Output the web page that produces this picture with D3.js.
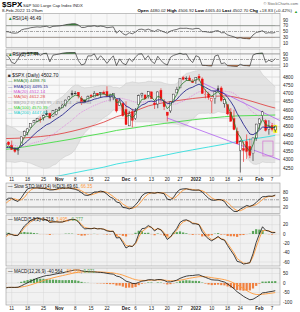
<!DOCTYPE html>
<html><head><meta charset="utf-8">
<script src="https://cdn.jsdelivr.net/npm/d3@7"></script>
<style>
body{margin:0;background:#fff;}
svg{display:block;font-family:"Liberation Sans",Arial,sans-serif;}
</style></head><body>
<svg id="c" width="300" height="312"></svg>
<script>
// ---------------- DATA ----------------
const dates = [
"2021-09-13","2021-09-14","2021-09-15","2021-09-16","2021-09-17","2021-09-20","2021-09-21","2021-09-22","2021-09-23","2021-09-24","2021-09-27","2021-09-28","2021-09-29","2021-09-30",
"2021-10-01","2021-10-04","2021-10-05","2021-10-06","2021-10-07","2021-10-08","2021-10-11","2021-10-12","2021-10-13","2021-10-14","2021-10-15","2021-10-18","2021-10-19","2021-10-20","2021-10-21","2021-10-22","2021-10-25","2021-10-26","2021-10-27","2021-10-28","2021-10-29",
"2021-11-01","2021-11-02","2021-11-03","2021-11-04","2021-11-05","2021-11-08","2021-11-09","2021-11-10","2021-11-11","2021-11-12","2021-11-15","2021-11-16","2021-11-17","2021-11-18","2021-11-19","2021-11-22","2021-11-23","2021-11-24","2021-11-26","2021-11-29","2021-11-30",
"2021-12-01","2021-12-02","2021-12-03","2021-12-06","2021-12-07","2021-12-08","2021-12-09","2021-12-10","2021-12-13","2021-12-14","2021-12-15","2021-12-16","2021-12-17","2021-12-20","2021-12-21","2021-12-22","2021-12-23","2021-12-27","2021-12-28","2021-12-29","2021-12-30","2021-12-31",
"2022-01-03","2022-01-04","2022-01-05","2022-01-06","2022-01-07","2022-01-10","2022-01-11","2022-01-12","2022-01-13","2022-01-14","2022-01-18","2022-01-19","2022-01-20","2022-01-21","2022-01-24","2022-01-25","2022-01-26","2022-01-27","2022-01-28","2022-01-31",
"2022-02-01","2022-02-02","2022-02-03","2022-02-04","2022-02-07","2022-02-08"];

const open = [
4474.8,4479.3,4447.5,4477.1,4469.7,4402.9,4374.5,4367.4,4406.8,4438.0,4442.1,4419.5,4362.4,4370.7,
4317.2,4348.8,4309.9,4319.6,4383.7,4406.5,4385.4,4368.3,4358.0,4386.7,4447.7,4463.7,4497.3,4524.4,4532.2,4546.1,4553.7,4578.7,4580.2,4562.8,4572.9,
4610.6,4613.3,4630.7,4662.9,4699.3,4701.5,4707.3,4670.3,4659.4,4655.2,4689.3,4679.4,4701.5,4700.7,4708.4,4712.0,4678.5,4675.8,4664.6,4628.8,4640.2,
4602.8,4504.7,4589.5,4548.4,4632.0,4690.9,4691.0,4687.6,4710.3,4642.0,4636.5,4719.1,4652.5,4587.9,4595.0,4650.4,4704.0,4734.0,4795.5,4788.6,4794.2,4775.2,
4778.1,4804.5,4788.0,4693.4,4697.7,4655.3,4669.1,4728.6,4733.6,4638.0,4632.2,4588.0,4547.4,4471.4,4356.3,4366.6,4408.4,4380.6,4336.2,4431.8,
4519.6,4566.4,4535.4,4482.8,4505.8,4480.02];
const high = [
4492.0,4485.7,4486.9,4485.9,4471.5,4402.9,4394.9,4416.8,4465.4,4463.1,4457.3,4419.5,4385.6,4382.6,
4375.2,4355.5,4369.2,4365.6,4430.0,4412.0,4415.9,4374.9,4372.9,4439.7,4475.8,4488.8,4520.4,4540.9,4551.4,4559.7,4572.6,4598.5,4584.6,4597.6,4608.1,
4620.3,4635.2,4663.5,4683.0,4718.5,4714.9,4708.5,4684.9,4664.6,4688.5,4697.4,4714.9,4701.5,4708.8,4717.8,4743.8,4699.4,4702.9,4664.6,4672.9,4646.0,
4652.9,4595.5,4608.0,4612.6,4694.0,4705.1,4695.3,4713.6,4710.3,4660.5,4712.6,4732.0,4666.7,4587.9,4651.1,4697.7,4740.7,4791.5,4807.0,4804.1,4808.9,4786.8,
4796.6,4818.6,4797.7,4725.0,4708.0,4673.0,4714.1,4748.8,4744.1,4665.1,4632.2,4611.6,4602.1,4494.5,4417.4,4411.0,4453.2,4428.7,4432.7,4516.9,
4550.5,4595.3,4542.9,4539.7,4521.9,4506.9];
const low = [
4445.7,4435.5,4438.4,4443.8,4427.8,4305.9,4348.0,4359.6,4406.8,4430.3,4436.2,4346.3,4355.1,4306.2,
4288.5,4278.9,4309.9,4290.5,4383.7,4386.2,4360.6,4342.1,4329.9,4386.7,4447.7,4447.5,4496.4,4524.4,4526.9,4524.0,4537.4,4569.2,4551.7,4562.8,4567.6,
4595.1,4613.3,4621.2,4662.6,4681.3,4694.4,4670.9,4630.9,4648.3,4650.4,4672.9,4679.4,4684.4,4672.8,4694.2,4682.2,4652.7,4659.9,4585.4,4625.3,4560.0,
4510.3,4504.7,4495.1,4540.5,4632.0,4674.5,4666.0,4670.2,4667.6,4606.5,4611.2,4651.9,4600.2,4531.1,4583.2,4645.5,4704.0,4734.0,4780.0,4778.1,4775.3,4765.7,
4758.2,4774.3,4699.4,4671.3,4662.7,4582.2,4638.3,4706.7,4650.3,4614.8,4568.7,4530.2,4478.0,4395.3,4222.6,4287.1,4304.8,4309.5,4292.5,4414.0,
4484.0,4544.3,4470.4,4451.5,4471.5,4465.4];
const close = [
4468.73,4443.05,4480.70,4473.75,4432.99,4357.73,4354.19,4395.64,4448.98,4455.48,4443.11,4352.63,4359.46,4307.54,
4357.04,4300.46,4345.72,4363.55,4399.76,4391.34,4361.19,4350.65,4363.80,4438.26,4471.37,4486.46,4519.63,4536.19,4549.78,4544.90,4566.48,4574.79,4551.68,4596.42,4605.38,
4613.67,4630.65,4660.57,4680.06,4697.53,4701.70,4685.25,4646.71,4649.27,4682.85,4682.80,4700.90,4688.67,4704.54,4697.96,4682.94,4690.70,4701.46,4594.62,4655.27,4567.00,
4513.04,4577.10,4538.43,4591.67,4686.75,4701.21,4667.45,4712.02,4668.97,4634.09,4709.85,4668.67,4620.64,4568.02,4649.23,4696.56,4725.79,4791.19,4786.35,4793.06,4778.73,4766.18,
4796.56,4793.54,4700.58,4696.05,4677.03,4670.29,4713.07,4726.35,4659.03,4662.85,4577.11,4532.76,4482.73,4397.94,4410.13,4356.45,4349.93,4326.51,4431.85,4515.55,
4546.54,4589.38,4477.44,4500.53,4483.87,4502.70];
// closes Aug 2 - Sep 10 2021 (history before the first bar)
const closesBefore = [4387.16,4423.15,4402.66,4429.10,4436.52,4432.35,4436.75,4447.70,4460.83,4468.00,4479.71,4448.08,4400.27,4405.80,4441.67,4479.53,4486.23,4496.19,4470.00,4509.37,4528.79,4522.68,4524.09,4536.95,4535.43,4520.03,4514.07,4493.28,4458.58];

// long moving averages (weekly readings)
const maDates = ["2021-10-07","2021-10-15","2021-10-22","2021-10-29","2021-11-05","2021-11-12","2021-11-19","2021-11-26","2021-12-03","2021-12-10","2021-12-17","2021-12-23","2021-12-31","2022-01-07","2022-01-14","2022-01-21","2022-01-28","2022-02-04","2022-02-08"];
const ma50 = [4428,4432,4440,4452,4472,4497,4527,4560,4588,4625,4645,4657,4670,4680,4686,4676,4651,4622,4612.28];
const ma100 = [4362,4378,4393,4409,4425,4444,4461,4477,4491,4506,4519,4529,4541,4551,4560,4565,4567,4569,4570.39];
const ma200 = [4150,4166,4182,4199,4218,4237,4255,4274,4291,4308,4326,4342,4360,4377,4394,4410,4426,4440,4447.82];

// drawn trend lines & annotation box: [bar offset from Oct 11, price]
const trend1 = [[59.3, 4772], [85.5, 4527]];
const trend2 = [[49, 4552], [85.5, 4292]];
const boxX = [79.1, 82.3], boxPrice = [4413, 4323];

const tickDates = ["2021-10-11","2021-10-18","2021-10-25","2021-11-01","2021-11-08","2021-11-15","2021-11-22","2021-12-01","2021-12-06","2021-12-13","2021-12-20","2021-12-27","2022-01-03","2022-01-10","2022-01-18","2022-01-24","2022-02-01","2022-02-07"];
const tickLabels = ["11","18","25","Nov","8","15","22","Dec","6","13","20","27","2022","10","18","24","Feb","7"];
const priceTicks = [4250,4300,4350,4400,4450,4500,4550,4600,4650,4700,4750,4800];
const rsi14Ticks = [90,70,50,30,10], rsi2Ticks = [90,50,10], stoTicks = [80,50,20];
const macd1Ticks = [20,0,-20,-40,-60], macd2Ticks = [50,0,-50,-100];

// ---------------- INDICATORS ----------------
const allClose = closesBefore.concat(close);
const OFF = closesBefore.length;
function ema(arr, n){
  const k = 2/(n+1), out = arr.map(()=>null);
  let start = arr.findIndex(v=>v!=null); let s=0;
  for(let i=start;i<arr.length;i++){
    const j=i-start;
    if(j<n-1){s+=arr[i];continue;}
    if(j===n-1){s+=arr[i]; out[i]=s/n;}
    else out[i]=arr[i]*k+out[i-1]*(1-k);
  }
  return out;
}
function sma(arr,n){return arr.map((v,i)=>{ if(i<n-1) return null; let s=0; for(let j=i-n+1;j<=i;j++){ if(arr[j]==null) return null; s+=arr[j];} return s/n;});}
function rsi(arr,n){
  const out=arr.map(()=>null); let ag=0, al=0;
  for(let i=1;i<arr.length;i++){
    const ch=arr[i]-arr[i-1], g=Math.max(ch,0), l=Math.max(-ch,0);
    if(i<=n){ag+=g;al+=l; if(i===n){ag/=n;al/=n; out[i]=100-100/(1+ag/al);} }
    else {ag=(ag*(n-1)+g)/n; al=(al*(n-1)+l)/n; out[i]=al===0?100:100-100/(1+ag/al);}
  }
  return out;
}
const sliceMain = a => a.slice(OFF);
const ema3 = sliceMain(ema(allClose,3)), ema10 = sliceMain(ema(allClose,10));
const ma20full = sma(allClose,20);
const ma20 = sliceMain(ma20full);
const bbU = [], bbL = [];
for(let i=0;i<close.length;i++){
  const e=OFF+i, m=ma20full[e]; let s=0;
  for(let j=e-19;j<=e;j++) s+=(allClose[j]-m)**2;
  const sd=Math.sqrt(s/20); bbU.push(m+2*sd); bbL.push(m-2*sd);
}
const rsi14 = sliceMain(rsi(allClose,14)), rsi2 = sliceMain(rsi(allClose,2));
const fastK = close.map((c,i)=>{ if(i<13) return null; const hh=d3.max(high.slice(i-13,i+1)), ll=d3.min(low.slice(i-13,i+1)); return (c-ll)/(hh-ll)*100;});
const slowK = sma(fastK,3), slowD = sma(slowK,3);
const e5=ema(allClose,5), e9=ema(allClose,9);
const m1full = allClose.map((v,i)=>e9[i]==null?null:e5[i]-e9[i]);
const s1full = ema(m1full,2);
const macd1 = sliceMain(m1full), sig1 = sliceMain(s1full);
const e12=ema(allClose,12), e26=ema(allClose,26);
const m2full = allClose.map((v,i)=>e26[i]==null?null:e12[i]-e26[i]);
const s2full = ema(m2full,9);
const macd2 = sliceMain(m2full), sig2 = sliceMain(s2full);

// ---------------- LAYOUT ----------------
const svg = d3.select("#c");
const X0=6, X1=280;
const xs = d3.scaleLinear().domain([-1.8,84.5]).range([X0,X1]);
const BASE = dates.indexOf("2021-10-11");
const xi = i => xs(i-BASE);
const xd = d => xi(dates.indexOf(d));
const FIRST = BASE-2;
const idx = d3.range(FIRST, close.length);

const panels = {
  rsi14:{top:13.5,bot:47.5,y:d3.scaleLinear().domain([0,100]).range([46,17]),ticks:rsi14Ticks,bg:"#f7f7f7"},
  rsi2:{top:49,bot:68,y:d3.scaleLinear().domain([0,100]).range([66.5,52.5]),ticks:rsi2Ticks,bg:"#f7f7f7"},
  price:{top:69.5,bot:176,y:d3.scaleLinear().domain([4250,4800]).range([168,77]),ticks:priceTicks,bg:"#f8f8f8"},
  sto:{top:183,bot:213.5,y:d3.scaleLinear().domain([0,100]).range([211.8,187.7]),ticks:stoTicks,bg:"#f1f1f1"},
  m1:{top:215,bot:266,y:d3.scaleLinear().domain([-60,0]).range([262,234]),ticks:macd1Ticks,bg:"#f1f1f1"},
  m2:{top:268,bot:305,y:d3.scaleLinear().domain([-100,0]).range([302,283]),ticks:macd2Ticks,bg:"#f1f1f1"}
};
const defs = svg.append("defs");
const G = {};
Object.entries(panels).forEach(([k,p])=>{
  defs.append("clipPath").attr("id","cl-"+k).append("rect").attr("x",X0).attr("y",p.top).attr("width",X1-X0).attr("height",p.bot-p.top);
  svg.append("rect").attr("x",X0).attr("y",p.top).attr("width",X1-X0).attr("height",p.bot-p.top).attr("fill",p.bg);
  G[k] = svg.append("g").attr("clip-path",`url(#cl-${k})`);
  // vertical grid
  G[k].selectAll(null).data(tickDates).join("line").attr("x1",d=>xd(d)).attr("x2",d=>xd(d)).attr("y1",p.top).attr("y2",p.bot).attr("stroke","#d6d6d6").attr("stroke-width",0.5);
  // right axis labels
  svg.append("g").selectAll(null).data(p.ticks).join("text").attr("x",X1+3).attr("y",d=>p.y(d)+1.6).attr("font-size",4.6).attr("fill","#222").text(d=>d);
});
// price horizontal grid
G.price.selectAll(null).data(priceTicks).join("line").attr("x1",X0).attr("x2",X1).attr("y1",d=>panels.price.y(d)).attr("y2",d=>panels.price.y(d)).attr("stroke","#dadada").attr("stroke-width",0.5);
G.m1.selectAll(null).data(macd1Ticks).join("line").attr("x1",X0).attr("x2",X1).attr("y1",d=>panels.m1.y(d)).attr("y2",d=>panels.m1.y(d)).attr("stroke","#d6d6d6").attr("stroke-width",0.5);
G.m2.selectAll(null).data(macd2Ticks).join("line").attr("x1",X0).attr("x2",X1).attr("y1",d=>panels.m2.y(d)).attr("y2",d=>panels.m2.y(d)).attr("stroke","#d6d6d6").attr("stroke-width",0.5);

function lineOf(vals, y){ return d3.line().defined(i=>vals[i]!=null).x(i=>xi(i)).y(i=>y(vals[i]))(idx); }

// ---------------- RSI-type panels ----------------
function oscPanel(key, vals, hiLvl, loLvl, midLvl){
  const p=panels[key], g=G[key], y=p.y;
  const cid="cl-"+key;
  defs.append("clipPath").attr("id",cid+"-hi").append("rect").attr("x",X0).attr("y",p.top).attr("width",X1-X0).attr("height",y(hiLvl)-p.top);
  defs.append("clipPath").attr("id",cid+"-lo").append("rect").attr("x",X0).attr("y",y(loLvl)).attr("width",X1-X0).attr("height",p.bot-y(loLvl));
  const ar = base => d3.area().defined(i=>vals[i]!=null).x(i=>xi(i)).y0(y(base)).y1(i=>y(vals[i]))(idx);
  g.append("path").attr("d",ar(hiLvl)).attr("fill","#3f8f3f").attr("clip-path",`url(#${cid}-hi)`);
  g.append("path").attr("d",ar(loLvl)).attr("fill","#e0702a").attr("clip-path",`url(#${cid}-lo)`);
  [hiLvl,loLvl].forEach(l=>g.append("line").attr("x1",X0).attr("x2",X1).attr("y1",y(l)).attr("y2",y(l)).attr("stroke","#777").attr("stroke-width",0.7));
  if(midLvl!=null) g.append("line").attr("x1",X0).attr("x2",X1).attr("y1",y(midLvl)).attr("y2",y(midLvl)).attr("stroke","#555").attr("stroke-width",0.5).attr("stroke-dasharray","3,1,1,1");
  g.append("path").attr("d",lineOf(vals,y)).attr("fill","none").attr("stroke","#333").attr("stroke-width",0.7);
}
oscPanel("rsi14", rsi14, 70, 30, 50);
oscPanel("rsi2", rsi2, 90, 10, 50);

// ---------------- PRICE ----------------
const py = panels.price.y, gp = G.price;
gp.append("path").attr("d",d3.area().x(i=>xi(i)).y0(i=>py(bbL[i])).y1(i=>py(bbU[i]))(idx)).attr("fill","#e3e3e3");
gp.append("path").attr("d",lineOf(bbU,py)).attr("fill","none").attr("stroke","#c9c9c9").attr("stroke-width",0.5);
gp.append("path").attr("d",lineOf(bbL,py)).attr("fill","none").attr("stroke","#c9c9c9").attr("stroke-width",0.5);
gp.selectAll(null).data(priceTicks).join("line").attr("x1",X0).attr("x2",X1).attr("y1",d=>py(d)).attr("y2",d=>py(d)).attr("stroke","#d2d2d2").attr("stroke-width",0.4);
const maLine = vals => d3.line().curve(d3.curveMonotoneX).x((v,k)=>xd(maDates[k])).y(v=>py(v))(vals);
gp.append("path").attr("d",maLine(ma200)).attr("fill","none").attr("stroke","#33dede").attr("stroke-width",0.9);
gp.append("path").attr("d",maLine(ma100)).attr("fill","none").attr("stroke","#44dd44").attr("stroke-width",0.9);
gp.append("path").attr("d",maLine(ma50)).attr("fill","none").attr("stroke","#e04848").attr("stroke-width",0.9);
gp.append("path").attr("d",lineOf(ma20,py)).attr("fill","none").attr("stroke","#e070e0").attr("stroke-width",0.7).attr("stroke-dasharray","1,1");
[trend1,trend2].forEach(t=>gp.append("line").attr("x1",xs(t[0][0])).attr("y1",py(t[0][1])).attr("x2",xs(t[1][0])).attr("y2",py(t[1][1])).attr("stroke","#b060f0").attr("stroke-width",0.8));
gp.append("rect").attr("x",xs(boxX[0])).attr("y",py(boxPrice[0])).attr("width",xs(boxX[1])-xs(boxX[0])).attr("height",py(boxPrice[1])-py(boxPrice[0])).attr("fill","none").attr("stroke","#d070d0").attr("stroke-width",0.7);
// last bar highlight
const L = close.length-1;
gp.append("rect").attr("x",xi(L)-2).attr("y",py(high[L])-0.6).attr("width",4).attr("height",py(low[L])-py(high[L])+1.2).attr("fill","#ffff30");
// candles
const cg = gp.append("g");
idx.forEach(i=>{
  const x=xi(i), o=open[i], c=close[i];
  const col = c>=close[i-1] ? "#111" : "#ee1111";
  cg.append("line").attr("x1",x).attr("x2",x).attr("y1",py(high[i])).attr("y2",py(low[i])).attr("stroke",col).attr("stroke-width",0.6);
  const yt=py(Math.max(o,c)), yb=py(Math.min(o,c));
  cg.append("rect").attr("x",x-1).attr("y",yt).attr("width",2).attr("height",Math.max(0.6,yb-yt))
    .attr("fill", c>o ? "#fff" : col).attr("stroke",col).attr("stroke-width",0.4);
});
gp.append("path").attr("d",lineOf(ema10,py)).attr("fill","none").attr("stroke","#2a2a90").attr("stroke-width",0.9);
gp.append("path").attr("d",lineOf(ema3,py)).attr("fill","none").attr("stroke","#2a7a2a").attr("stroke-width",0.8);

// ---------------- STO ----------------
const sy = panels.sto.y, gs = G.sto;
[80,20].forEach(l=>gs.append("line").attr("x1",X0).attr("x2",X1).attr("y1",sy(l)).attr("y2",sy(l)).attr("stroke","#777").attr("stroke-width",0.7));
gs.append("line").attr("x1",X0).attr("x2",X1).attr("y1",sy(50)).attr("y2",sy(50)).attr("stroke","#555").attr("stroke-width",0.5).attr("stroke-dasharray","3,1,1,1");
gs.append("path").attr("d",lineOf(slowD,sy)).attr("fill","none").attr("stroke","#ff9a3a").attr("stroke-width",0.9);
gs.append("path").attr("d",lineOf(slowK,sy)).attr("fill","none").attr("stroke","#111").attr("stroke-width",0.8);

// ---------------- MACDs ----------------
function macdPanel(key, m, s){
  const y=panels[key].y, g=G[key];
  g.selectAll(null).data(idx.filter(i=>m[i]!=null&&s[i]!=null)).join("rect")
    .attr("x",i=>xi(i)-1.1).attr("width",2.2)
    .attr("y",i=>Math.min(y(0),y(m[i]-s[i]))).attr("height",i=>Math.abs(y(m[i]-s[i])-y(0)))
    .attr("fill",i=>m[i]-s[i]>=0?"#5aa55a":"#f08040");
  g.append("path").attr("d",lineOf(s,y)).attr("fill","none").attr("stroke","#ff9a3a").attr("stroke-width",0.9);
  g.append("path").attr("d",lineOf(m,y)).attr("fill","none").attr("stroke","#111").attr("stroke-width",0.8);
}
macdPanel("m1", macd1, sig1);
macdPanel("m2", macd2, sig2);

// panel borders
Object.values(panels).forEach(p=>svg.append("rect").attr("x",X0).attr("y",p.top).attr("width",X1-X0).attr("height",p.bot-p.top).attr("fill","none").attr("stroke","#999").attr("stroke-width",0.6));

// ---------------- TEXT ----------------
const FS=4.6;
function txt(x,y,parts,opt={}){
  const t=svg.append("text").attr("x",x).attr("y",y).attr("font-size",opt.size||FS).attr("text-anchor",opt.anchor||"start");
  parts.forEach(p=>t.append("tspan").attr("fill",p[1]||"#111").attr("font-weight",p[2]?"bold":null).text(p[0]));
  return t;
}
txt(2,7,[["$SPX","#000",true]],{size:8});
txt(23,6.5,[["S&P 500 Large Cap Index ","#222"],["INDX","#222"]],{size:4.2});
txt(298,5,[["© StockCharts.com","#666"]],{size:4,anchor:"end"});
txt(2,12.3,[["8-Feb-2022 11:29am","#222"]],{size:4.4});
txt(292,12.3,[["Open ","#000",true],["4480.02  ","#222"],["High ","#000",true],["4506.92  ","#222"],["Low ","#000",true],["4465.40  ","#222"],["Last ","#000",true],["4502.70  ","#222"],["Chg ","#000",true],["+18.83 (+0.42%)","#222"]],{size:4.4,anchor:"end"});
txt(298,12.5,[["▲","#2a9a2a"]],{size:4,anchor:"end"});

txt(8,20,[["▲","#2a8a2a"],["RSI(14) 46.49","#111"]]);
txt(8,56,[["▲","#2a8a2a"],["RSI(2) 57.44","#111"]]);

const f2 = v=>v.toFixed(2);
const legend = [
  [["■ ","#333"],["$SPX (Daily) ","#111"],[f2(close[L]),"#111"]],
  [["— ","#2a7a2a"],["EMA(3) "+f2(ema3[L]),"#2a7a2a"]],
  [["— ","#2a2a90"],["EMA(10) "+f2(ema10[L]),"#2a2a90"]],
  [["··· ","#e070e0"],["MA(20) "+f2(ma20[L]),"#d050d0"]],
  [["— ","#e04848"],["MA(50) "+f2(ma50[ma50.length-1]),"#e04848"]],
  [["— ","#aaa"],["BB(20,2.0) "+f2(bbL[L])+" - "+f2(ma20[L])+" - "+f2(bbU[L]),"#999"]],
  [["— ","#44dd44"],["MA(100) "+f2(ma100[ma100.length-1]),"#33cc33"]],
  [["— ","#33dede"],["MA(200) "+f2(ma200[ma200.length-1]),"#22cccc"]]
];
legend.forEach((parts,k)=>txt(8,76.8+k*5.35,parts,{size:k===0?4.8:4.4}));

txt(8,188,[["— ","#111"],["Slow STO %K(14) %D(3) ","#111"],["69.61","#111"],[", ","#111"],["66.35","#ff9a3a"]]);
txt(8,221,[["— ","#111"],["MACD(5,9,2) ","#111"],["3.218","#111"],[", ","#111"],["3.495","#ff9a3a"],[", ","#111"],["-0.277","#5aa55a"]]);
txt(8,273,[["— ","#111"],["MACD(12,26,9) ","#111"],["-40.564","#111"],[", ","#111"],["-50.536","#ff9a3a"],[", ","#111"],["9.971","#5aa55a"]]);

// x-axis labels
[181.3, 310].forEach(yy=>{
  svg.append("g").selectAll(null).data(tickDates).join("text")
    .attr("x",d=>xd(d)).attr("y",yy).attr("text-anchor","middle").attr("font-size",4.6)
    .attr("font-weight",(d,k)=>isNaN(+tickLabels[k])||tickLabels[k]==="2022"?"bold":null)
    .attr("fill","#222").text((d,k)=>tickLabels[k]);
});
</script>
</body></html>
